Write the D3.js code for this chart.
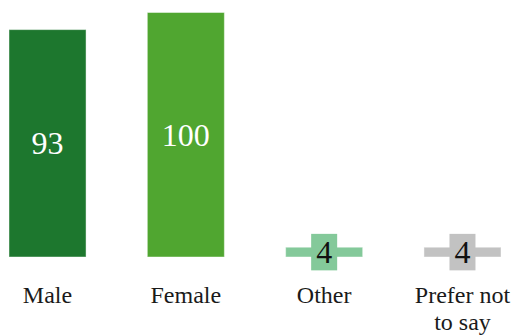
<!DOCTYPE html>
<html>
<head>
<meta charset="utf-8">
<script src="https://cdn.jsdelivr.net/npm/d3@7"></script>
<style>
  html, body { margin: 0; padding: 0; background: #fff; }
  svg { display: block; }
  svg text { font-family: "Liberation Serif", "Times New Roman", Times, "DejaVu Serif", serif; }
</style>
</head>
<body>
<svg id="chart" width="511" height="335"></svg>
<script>
// Respondents by gender
const categories = ["Male", "Female", "Other", "Prefer not to say"];
const categoryLines = [["Male"], ["Female"], ["Other"], ["Prefer not", "to say"]];
const counts = [93, 100, 4, 4];
const colors = ["#1d772e", "#50a630", "#84c99a", "#c2c2c2"];

const svg = d3.select("#chart");

const x = d3.scaleBand()
  .domain(categories)
  .range([9, 501])
  .paddingInner(0.443)
  .paddingOuter(0);

const y = d3.scaleLinear()
  .domain([0, 100])
  .range([257, 12.5]);

const data = categories.map((c, i) => ({ cat: c, value: counts[i], color: colors[i], lines: categoryLines[i] }));

// Bars
svg.append("g")
  .selectAll("rect")
  .data(data)
  .join("rect")
  .attr("x", d => x(d.cat))
  .attr("y", d => y(d.value))
  .attr("width", x.bandwidth())
  .attr("height", d => y(0) - y(d.value))
  .attr("fill", d => d.color)
  .attr("stroke", "#ffffff")
  .attr("stroke-opacity", 0.45)
  .attr("stroke-width", 1);

// Value labels: inside the bar when it fits, otherwise on a tab of the bar colour
const labelSize = 32;
const labels = svg.append("g");
data.forEach(d => {
  const cx = x(d.cat) + x.bandwidth() / 2;
  const cy = (y(d.value) + y(0)) / 2;
  const fits = (y(0) - y(d.value)) > labelSize * 1.3;
  const g = labels.append("g");
  const t = g.append("text")
    .attr("x", cx)
    .attr("y", cy)
    .attr("text-anchor", "middle")
    .attr("dominant-baseline", "central")
    .attr("font-size", labelSize)
    .attr("fill", fits ? "#ffffff" : "#111111")
    .text(d.value);
  if (!fits) {
    const bb = t.node().getBBox();
    const w = bb.width + 10, h = 36.5;
    g.insert("rect", "text")
      .attr("x", cx - w / 2)
      .attr("y", cy - h / 2)
      .attr("width", w)
      .attr("height", h)
      .attr("fill", d.color);
  }
});

// Category axis labels
const axis = svg.append("g");
data.forEach(d => {
  const cx = x(d.cat) + x.bandwidth() / 2;
  const t = axis.append("text")
    .attr("text-anchor", "middle")
    .attr("font-size", 24)
    .attr("fill", "#1a1a1a");
  d.lines.forEach((line, i) => {
    t.append("tspan")
      .attr("x", cx)
      .attr("y", 303 + i * 27)
      .text(line);
  });
});
</script>
</body>
</html>
